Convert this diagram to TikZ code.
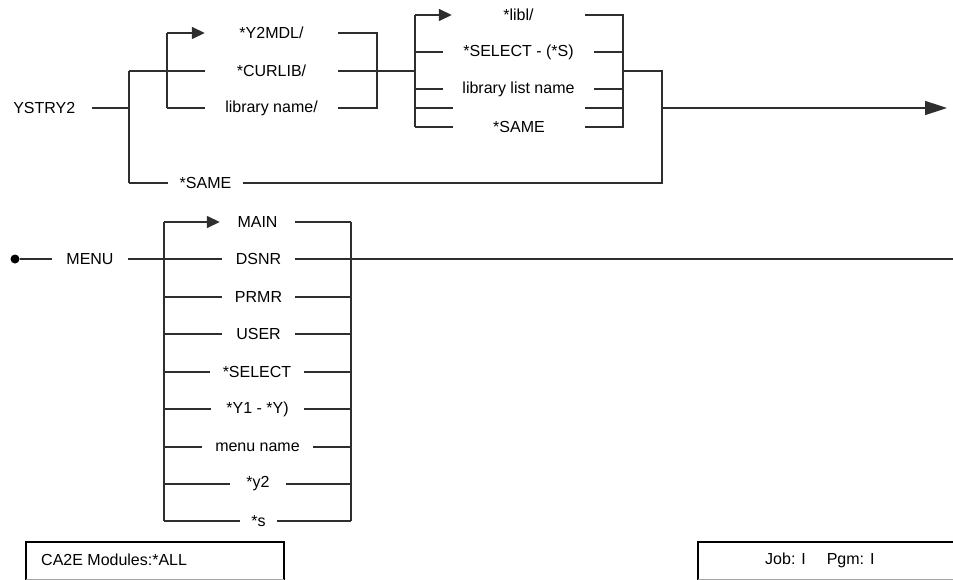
\documentclass[tikz,border=0pt]{standalone}
\usepackage{fontspec}
\setmainfont{Liberation Sans}
\usetikzlibrary{arrows.meta}
\begin{document}
\begin{tikzpicture}[x=1pt,y=-1pt,
  line/.style={line width=1.5pt, draw=black!82},
  lbl/.style={inner sep=0pt, minimum height=14pt, minimum width=#1, font=\fontsize{16}{18}\selectfont, text=black},
  bigarrow/.style={-{Triangle[length=22pt,width=14pt]}},
  smallarrow/.style={-{Triangle[length=13pt,width=12pt]}},
  boxtext/.style={inner sep=0pt, anchor=west, font=\fontsize{16}{18}\selectfont},
]
\useasboundingbox (0,0) rectangle (953,580);

% ---------- top diagram ----------
\node[lbl=95pt, anchor=east] (ystry) at (92,108) {YSTRY2};
\node[lbl=133pt] (y2mdl) at (271.5,33) {*Y2MDL/};
\node[lbl=133pt] (curlib) at (271.5,71) {*CURLIB/};
\node[lbl=133pt] (libname) at (271.5,108) {library name/};
\node[lbl=75pt] (same1) at (205.5,183) {*SAME};

\node[lbl=133pt] (libl) at (518.5,15) {*libl/};
\node[lbl=151pt] (select) at (518.5,52) {*SELECT - (*S)};
\node[lbl=151pt] (liblist) at (518.5,89) {library list name};
\node[lbl=132pt] (empty) at (519,108) {};
\node[lbl=132pt] (same2) at (519,127) {*SAME};

\coordinate (a1t) at (129,71);
\coordinate (a1m) at (129,108);
\coordinate (a1b) at (129,183);
\coordinate (a2t) at (167,33);
\coordinate (a2b) at (167,108);
\coordinate (b1t) at (377,33);
\coordinate (b1m) at (377,71);
\coordinate (b1b) at (377,108);
\coordinate (c1t) at (415,15);
\coordinate (c1m) at (415,71);
\coordinate (c1b) at (415,127);
\coordinate (d1t) at (623,15);
\coordinate (d1m) at (623,71);
\coordinate (d1b) at (623,127);
\coordinate (e1t) at (662,71);
\coordinate (e1m) at (662,108);
\coordinate (e1b) at (662,183);
\coordinate (endA) at (947,108);

\draw[line] (ystry.east) -- (a1m);
\draw[line] (a1t) -- (a1b);
\draw[line] (a1t) -- (curlib.west);
\draw[line] (a1b) -- (same1.west);
\draw[line] (a2b) -- (a2t);
\draw[line, smallarrow] (a2t) -- (y2mdl.west);
\draw[line] (a2b) -- (libname.west);
\draw[line] (y2mdl.east) -- (b1t) -- (b1b) -- (libname.east);
\draw[line] (curlib.east) -- (b1m) -- (c1m);

\draw[line] (c1t) -- (c1b);
\draw[line, smallarrow] (c1t) -- (libl.west);
\draw[line] (c1t |- select) -- (select.west);
\draw[line] (c1t |- liblist) -- (liblist.west);
\draw[line] (c1t |- empty) -- (empty.west);
\draw[line] (c1b) -- (same2.west);

\draw[line] (libl.east) -- (d1t) -- (d1b) -- (same2.east);
\draw[line] (select.east) -- (d1t |- select);
\draw[line] (liblist.east) -- (d1t |- liblist);
\draw[line] (empty.east) -- (d1t |- empty);
\draw[line] (d1m) -- (e1t) -- (e1b) -- (same1.east);
\draw[line, bigarrow] (e1m) -- (endA);

% ---------- bottom diagram ----------
\node[circle, fill=black, inner sep=0pt, minimum size=9pt] (dot) at (15,259) {};
\node[lbl=76pt] (menu) at (90,259) {MENU};
\node[lbl=75pt] (main) at (257.5,222) {MAIN};
\node[lbl=73pt] (dsnr) at (258.5,259) {DSNR};
\node[lbl=73pt] (prmr) at (258.5,297) {PRMR};
\node[lbl=73pt] (user) at (258.5,334) {USER};
\node[lbl=94pt] (sel) at (257,372) {*SELECT};
\node[lbl=93pt] (yone) at (257.5,409) {*Y1 - *Y)};
\node[lbl=111pt] (mname) at (257.5,447) {menu name};
\node[lbl=56pt] (ytwo) at (258,484) {*y2};
\node[lbl=37pt] (smalls) at (258.5,521) {*s};

\coordinate (ft) at (164,222);
\coordinate (fb) at (164,521);
\coordinate (gt) at (351,222);
\coordinate (gb) at (351,521);
\coordinate (endB) at (953,259);

\draw[line] (dot) -- (menu.west);
\draw[line] (menu.east) -- (dsnr.west);
\draw[line] (ft) -- (fb);
\draw[line] (gt) -- (gb);
\draw[line, smallarrow] (ft) -- (main.west);
\foreach \n in {prmr,user,sel,yone,mname,ytwo} {
  \draw[line] (ft |- \n) -- (\n.west);
  \draw[line] (\n.east) -- (gt |- \n);
}
\draw[line] (fb) -- (smalls.west);
\draw[line] (smalls.east) -- (gb);
\draw[line] (main.east) -- (gt);
\draw[line] (dsnr.east) -- (endB);

% ---------- status boxes ----------
\draw[line width=2pt, black] (26,582) -- (26,542) -- (284,542) -- (284,582);
\draw[line width=1pt, black!35] (26,579) -- (284,579);
\node[boxtext] (ca2e) at (41,560) {CA2E Modules:*ALL};

\draw[line width=2pt, black] (698,582) -- (698,542) -- (955,542);
\draw[line width=1pt, black!35] (698,579) -- (953,579);
\node[boxtext] (job) at (765,560) {Job: I\hspace{21pt}Pgm: I};
\end{tikzpicture}
\end{document}
